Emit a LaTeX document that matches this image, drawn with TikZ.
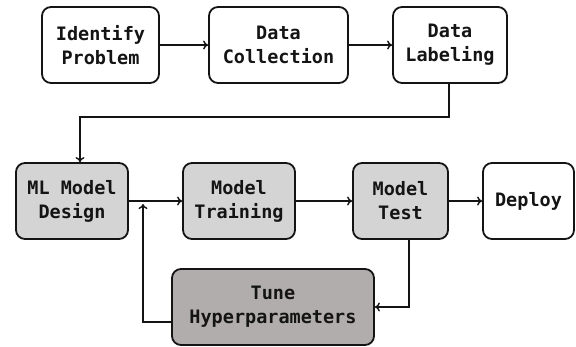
\documentclass[tikz,border=0pt]{standalone}
\usepackage{fontspec}
\newfontfamily\boxfont{DejaVu Sans Mono}
\usetikzlibrary{arrows.meta}
\definecolor{lightfill}{RGB}{212,212,212}
\definecolor{darkfill}{RGB}{178,173,173}
\definecolor{inkcol}{RGB}{20,20,20}
\tikzset{
  box/.style={draw=inkcol, line width=1.8pt, rounded corners=9pt, inner sep=0pt,
    align=center, minimum height=76pt, text=inkcol,
    font=\boxfont\bfseries\fontsize{18.5}{24}\selectfont},
  whitebox/.style={box, fill=white},
  greybox/.style={box, fill=lightfill},
  tunebox/.style={box, fill=darkfill},
  flow/.style={draw=inkcol, line width=1.6pt, -{To[length=5pt,width=9pt,line width=1.4pt]}},
  plain/.style={draw=inkcol, line width=1.6pt}
}
\begin{document}
\begin{tikzpicture}[x=1pt,y=-1pt]
\useasboundingbox (0,0) rectangle (576,346);
\node[whitebox, minimum width=117pt] (ident) at (100.5,45) {Identify\\Problem};
\node[whitebox, minimum width=139pt] (coll) at (278.5,45) {Data\\Collection};
\node[whitebox, minimum width=114pt] (label) at (450,45) {Data\\Labeling};
\node[greybox, minimum width=112pt] (design) at (72,201) {ML Model\\Design};
\node[greybox, minimum width=112pt] (train) at (239,201) {Model\\Training};
\node[greybox, minimum width=95pt] (test) at (400.5,201) {Model\\Test};
\node[whitebox, minimum width=91pt] (deploy) at (528.5,201) {Deploy};
\node[tunebox, minimum width=202pt] (tune) at (273,307) {Tune\\Hyperparameters};
\coordinate (fb) at (143,204);
\draw[flow] (ident.east) -- (coll.west);
\draw[flow] (coll.east) -- (label.west);
\draw[flow] ([xshift=-1pt]label.south) -- ++(0,33) -| ([xshift=8pt]design.north);
\draw[flow] (design.east) -- (train.west);
\draw[flow] (train.east) -- (test.west);
\draw[flow] (test.east) -- (deploy.west);
\draw[flow] ([xshift=8.5pt]test.south) |- (tune.east);
\draw[flow] ([yshift=-15pt]tune.west) -| (fb);
\end{tikzpicture}
\end{document}
